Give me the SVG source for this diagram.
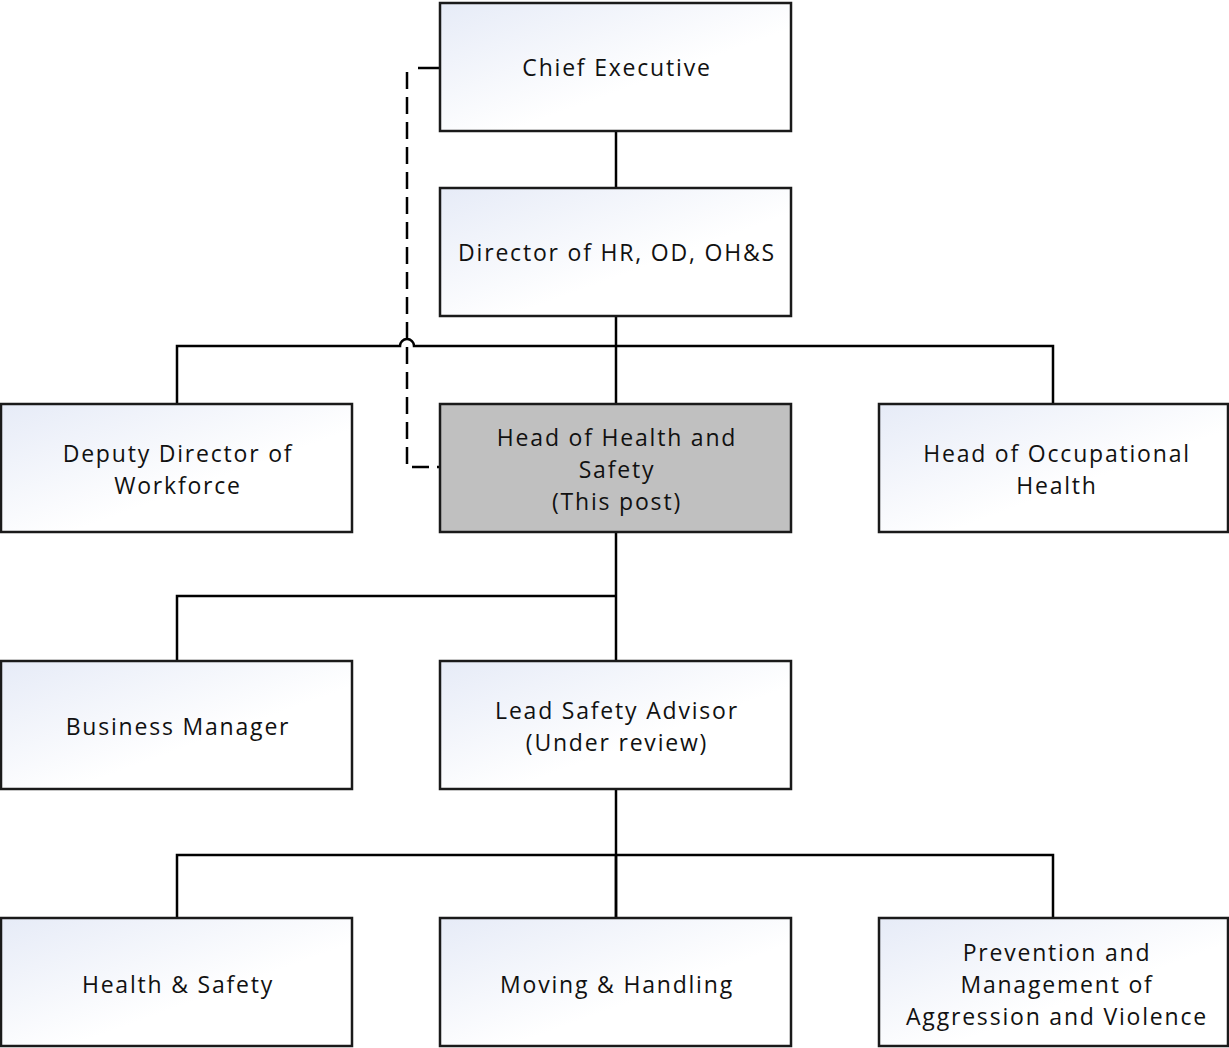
<svg xmlns="http://www.w3.org/2000/svg" width="1229" height="1048" viewBox="0 0 1229 1048">
<defs>
<linearGradient id="g" x1="0" y1="0" x2="1" y2="1">
<stop offset="0" stop-color="#E6EBF7"/>
<stop offset="0.6" stop-color="#FFFFFF"/>
</linearGradient>
<style>
.box{fill:url(#g);stroke:#1a1a1a;stroke-width:2.5}
.hl{fill:#C0C0C0;stroke:#1a1a1a;stroke-width:2.5}
.t{font-family:"Open Sans","Noto Sans",sans-serif;font-size:23px;fill:#111;text-anchor:middle;letter-spacing:1.8px}
.c{fill:none;stroke:#000;stroke-width:2.5}
.d{fill:none;stroke:#000;stroke-width:2.5;stroke-dasharray:17 8}
</style>
</defs>
<rect width="1229" height="1048" fill="#fff"/>
<g id="connectors">
<line class="c" x1="616" y1="131" x2="616" y2="188"/>
<line class="c" x1="616" y1="316" x2="616" y2="404"/>
<path class="c" d="M177 404 V346 H400 A7 7 0 0 1 414 346 H1053 V404"/>
<line class="c" x1="616" y1="532" x2="616" y2="661"/>
<path class="c" d="M177 661 V596 H616"/>
<line class="c" x1="616" y1="789" x2="616" y2="918"/>
<path class="c" d="M177 918 V855 H1053 V918"/>
<line class="c" x1="616" y1="855" x2="616" y2="918"/>
<line class="c" x1="418" y1="68" x2="440" y2="68"/>
<path class="d" d="M407 72 V467 H440"/>
</g>
<g id="n1"><rect class="box" x="440" y="3" width="351" height="128"/><text class="t" x="617" y="76">Chief Executive</text></g>
<g id="n2"><rect class="box" x="440" y="188" width="351" height="128"/><text class="t" x="617" y="261">Director of HR, OD, OH&amp;S</text></g>
<g id="n3"><rect class="box" x="1" y="404" width="351" height="128"/><text class="t" x="178" y="462">Deputy Director of</text><text class="t" x="178" y="494">Workforce</text></g>
<g id="n4"><rect class="hl" x="440" y="404" width="351" height="128"/><text class="t" x="617" y="446">Head of Health and</text><text class="t" x="617" y="478">Safety</text><text class="t" x="617" y="510">(This post)</text></g>
<g id="n5"><rect class="box" x="879" y="404" width="349" height="128"/><text class="t" x="1057" y="462">Head of Occupational</text><text class="t" x="1057" y="494">Health</text></g>
<g id="n6"><rect class="box" x="1" y="661" width="351" height="128"/><text class="t" x="178" y="735">Business Manager</text></g>
<g id="n7"><rect class="box" x="440" y="661" width="351" height="128"/><text class="t" x="617" y="719">Lead Safety Advisor</text><text class="t" x="617" y="751">(Under review)</text></g>
<g id="n8"><rect class="box" x="1" y="918" width="351" height="128"/><text class="t" x="178" y="993">Health &amp; Safety</text></g>
<g id="n9"><rect class="box" x="440" y="918" width="351" height="128"/><text class="t" x="617" y="993">Moving &amp; Handling</text></g>
<g id="n10"><rect class="box" x="879" y="918" width="349" height="128"/><text class="t" x="1057" y="961">Prevention and</text><text class="t" x="1057" y="993">Management of</text><text class="t" x="1057" y="1025">Aggression and Violence</text></g>
</svg>
